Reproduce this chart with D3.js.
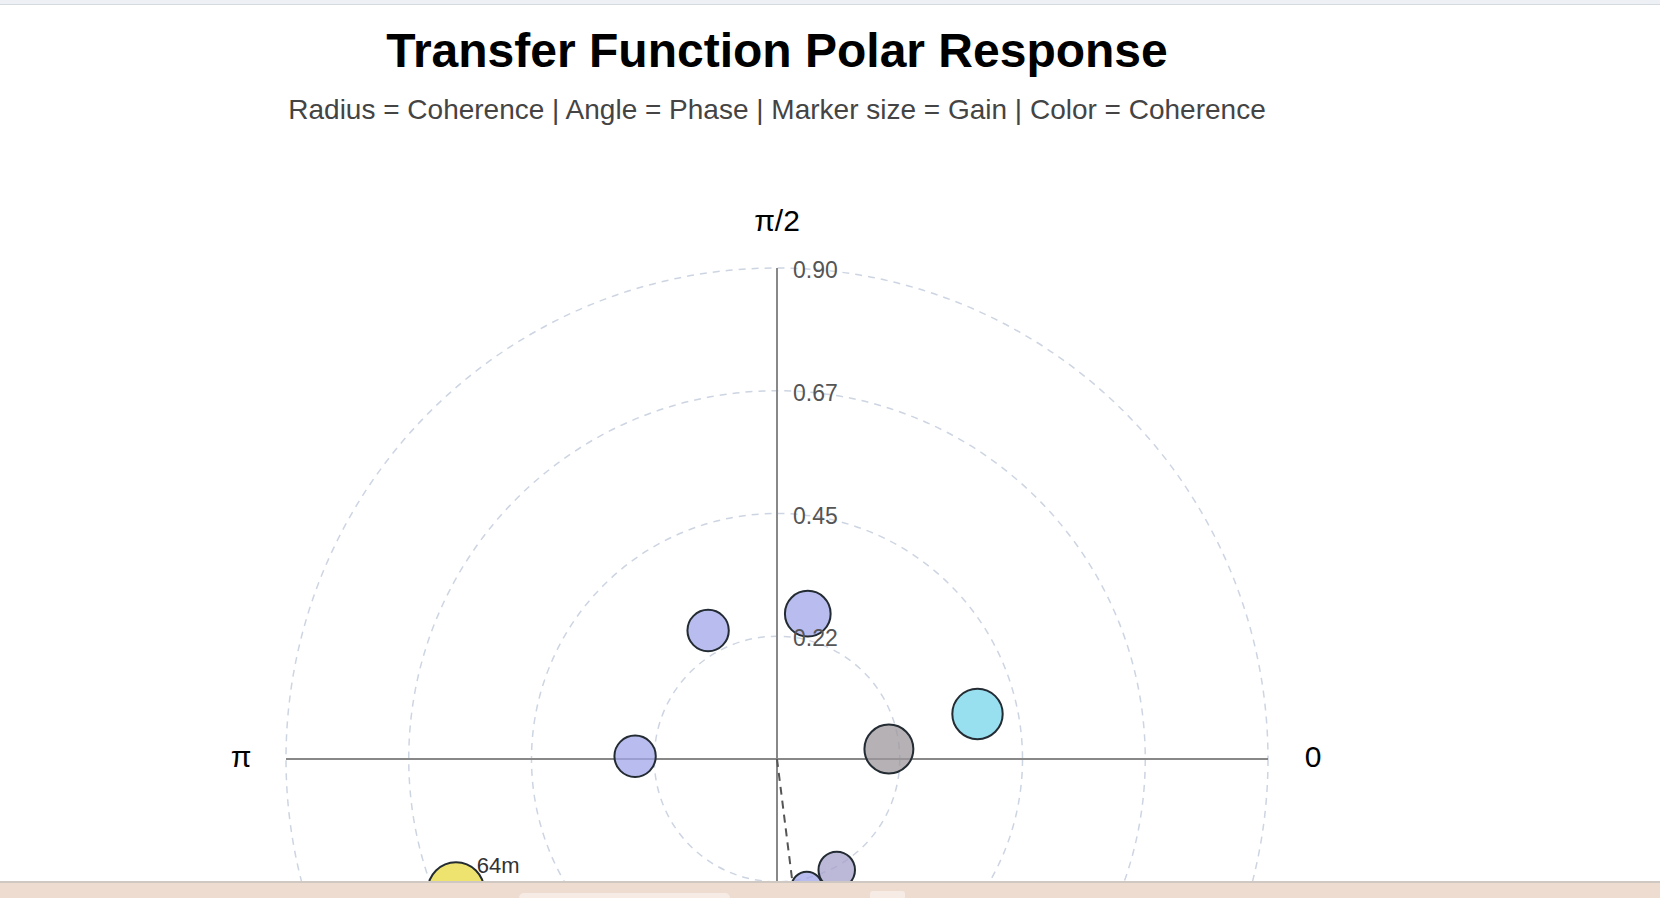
<!DOCTYPE html>
<html>
<head>
<meta charset="utf-8">
<script src="https://cdn.jsdelivr.net/npm/d3@7"></script>
<style>
  html, body { margin: 0; padding: 0; background: #fff; overflow: hidden; }
  svg { display: block; font-family: "Liberation Sans", Arial, Helvetica, sans-serif; }
</style>
</head>
<body>
<svg id="chart" width="1660" height="898"></svg>
<script>
// ---- data ----
const pointNames = ["p1", "p2", "p3", "p4", "p5", "p6", "p7", "p8"];
const pointLabels = [null, null, null, null, null, null, null, "64m"];
const phase      = [2.063, 1.362, 3.122, 0.089, 0.221, -1.077, -1.342, -2.753]; // radians
const coherence  = [0.266, 0.271, 0.259, 0.205, 0.375, 0.230, 0.240, 0.633];
const gain       = [0.95, 1.16, 0.95, 1.33, 1.41, 0.74, 0.53, 1.77];
const meanPhase  = -1.446;
const meanLength = 0.30;
const radialMax  = 0.896;
const radialTicks = [0.224, 0.448, 0.672, 0.896];
const angleTickLabels = ["0", "π/2", "π"];
const angleTickValues = [0, Math.PI / 2, Math.PI];
const titleText = "Transfer Function Polar Response";
const subtitleText = "Radius = Coherence | Angle = Phase | Marker size = Gain | Color = Coherence";

// ---- layout ----
const W = 1660, H = 898;
const cx = 777, cy = 759, R = 491;
const svg = d3.select("#chart");

const rScale = d3.scaleLinear().domain([0, radialMax]).range([0, R]);
const sizeScale = d3.scaleSqrt().domain([0, 2]).range([0, 30]);
const colorScale = d3.scaleLinear()
  .domain([0.205, 0.23, 0.24, 0.30, 0.375, 0.633])
  .range(["#9c979b", "#a6a0cb", "#a2a6e8", "#a2a6e8", "#76d4ea", "#e8da3f"])
  .interpolate(d3.interpolateRgb);
const fmt = d3.format(".2f");

// math angle -> d3.pointRadial angle (clockwise from 12 o'clock)
const pt = (theta, r) => d3.pointRadial(Math.PI / 2 - theta, r);

const data = pointNames.map((n, i) => ({
  name: n, label: pointLabels[i], phase: phase[i], coh: coherence[i], gain: gain[i]
}));

// titles
svg.append("text").attr("x", cx).attr("y", 67).attr("text-anchor", "middle")
  .attr("font-size", 48).attr("font-weight", "bold").attr("fill", "#000").text(titleText);
svg.append("text").attr("x", cx).attr("y", 119).attr("text-anchor", "middle")
  .attr("font-size", 28).attr("fill", "#444").text(subtitleText);

const g = svg.append("g").attr("transform", `translate(${cx},${cy})`);

// rings
g.selectAll("circle.ring").data(radialTicks).join("circle")
  .attr("class", "ring").attr("r", d => rScale(d))
  .attr("fill", "none").attr("stroke", "#cdd5e2").attr("stroke-width", 1.5)
  .attr("stroke-dasharray", "7,6");

// axes
g.append("line").attr("x1", -rScale(radialMax)).attr("x2", rScale(radialMax))
  .attr("y1", 0).attr("y2", 0).attr("stroke", "#888").attr("stroke-width", 2);
g.append("line").attr("x1", 0).attr("x2", 0)
  .attr("y1", -rScale(radialMax)).attr("y2", rScale(radialMax))
  .attr("stroke", "#888").attr("stroke-width", 2);

// angle labels
g.selectAll("text.ang").data(angleTickValues).join("text")
  .attr("class", "ang")
  .attr("x", d => pt(d, R + 45)[0]).attr("y", d => pt(d, R + 45)[1] - 3)
  .attr("text-anchor", "middle").attr("dominant-baseline", "central")
  .attr("font-size", 30).attr("fill", "#000")
  .text((d, i) => angleTickLabels[i]);

// mean vector
const mv = pt(meanPhase, rScale(meanLength));
g.append("line").attr("x1", 0).attr("y1", 0).attr("x2", mv[0]).attr("y2", mv[1])
  .attr("stroke", "#555").attr("stroke-width", 2).attr("stroke-dasharray", "8,6");

// points
const pts = g.selectAll("g.pt").data(data).join("g").attr("class", "pt")
  .attr("transform", d => { const p = pt(d.phase, rScale(d.coh)); return `translate(${p[0]},${p[1]})`; });
pts.append("circle").attr("r", d => sizeScale(d.gain))
  .attr("fill", d => colorScale(d.coh)).attr("fill-opacity", 0.75)
  .attr("stroke", "#232b33").attr("stroke-width", 2);
pts.filter(d => d.label).append("text")
  .attr("x", d => sizeScale(d.gain) * 0.74).attr("y", d => -sizeScale(d.gain) * 0.62)
  .attr("font-size", 22).attr("fill", "#333").text(d => d.label);

// radial tick labels
g.selectAll("text.rt").data(radialTicks).join("text").attr("class", "rt")
  .attr("x", 16).attr("y", d => -rScale(d) + 2)
  .attr("dominant-baseline", "central").attr("font-size", 23).attr("fill", "#555")
  .text(d => fmt(d));

// browser frame remnants seen in the reference
svg.append("rect").attr("x", 0).attr("y", 0).attr("width", W).attr("height", 4).attr("fill", "#edf1f5");
svg.append("rect").attr("x", 0).attr("y", 4).attr("width", W).attr("height", 1).attr("fill", "#d5dadf");
svg.append("rect").attr("x", 0).attr("y", 882).attr("width", W).attr("height", 16).attr("fill", "#eedcd0");
svg.append("rect").attr("x", 0).attr("y", 881).attr("width", W).attr("height", 2).attr("fill", "#cfc8c2");
svg.append("rect").attr("x", 519).attr("y", 893).attr("width", 211).attr("height", 10).attr("rx", 5).attr("fill", "#f6ece5");
svg.append("rect").attr("x", 870).attr("y", 891).attr("width", 35).attr("height", 12).attr("rx", 3).attr("fill", "#f6ece5");
</script>
</body>
</html>
